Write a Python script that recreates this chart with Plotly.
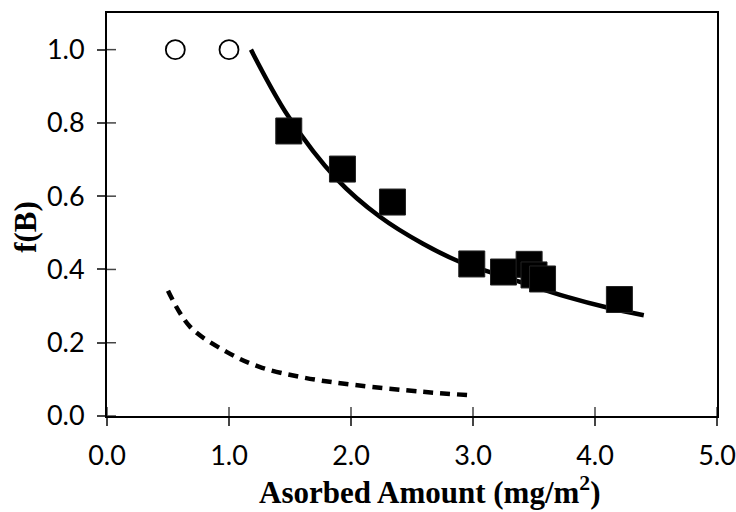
import plotly.graph_objects as go

# Open circles
open_x = [0.56, 1.00]
open_y = [1.00, 1.00]

# Filled squares (measured)
sq_x = [1.49, 1.93, 2.34, 2.99, 3.25, 3.46, 3.50, 3.57, 4.20]
sq_y = [0.778, 0.674, 0.584, 0.415, 0.393, 0.414, 0.385, 0.374, 0.318]

# Solid fitted curve
solid_x = [1.18, 1.49, 1.88, 2.24, 2.59, 2.89, 3.00, 3.385, 3.77, 4.10, 4.40]
solid_y = [1.00, 0.816, 0.648, 0.543, 0.47, 0.421, 0.408, 0.366, 0.325, 0.296, 0.275]

# Dashed curve
dash_x = [0.50, 0.68, 0.98, 1.25, 1.61, 2.02, 2.59, 2.96]
dash_y = [0.342, 0.244, 0.175, 0.134, 0.105, 0.085, 0.066, 0.057]

x_range = [0, 5]
y_range = [0, 1.1]
x_ticks = [0, 1, 2, 3, 4, 5]
y_ticks = [0, 0.2, 0.4, 0.6, 0.8, 1.0]

x_title = "Asorbed Amount (mg/m<sup>2</sup>)"
y_title = "f(B)"

fig = go.Figure()
fig.add_trace(go.Scatter(x=dash_x, y=dash_y, mode="lines",
                         line=dict(color="black", width=4.5, dash="10px,7px", shape="spline"),
                         showlegend=False, hoverinfo="skip"))
fig.add_trace(go.Scatter(x=solid_x, y=solid_y, mode="lines",
                         line=dict(color="black", width=4.5, shape="spline"),
                         showlegend=False, hoverinfo="skip"))
fig.add_trace(go.Scatter(x=sq_x, y=sq_y, mode="markers",
                         marker=dict(symbol="square", size=26, color="black",
                                     line=dict(color="#222", width=1)),
                         showlegend=False))
fig.add_trace(go.Scatter(x=open_x, y=open_y, mode="markers",
                         marker=dict(symbol="circle", size=19, color="white",
                                     line=dict(color="black", width=1.8)),
                         showlegend=False))

tick_col = "#444"
# inner halves of the crossing tick marks
shapes = []
for v in x_ticks:
    shapes.append(dict(type="line", xref="x", yref="paper",
                       x0=v, x1=v, y0=0, y1=9 / 403, line=dict(color=tick_col, width=1.5),
                       layer="above"))
for v in y_ticks:
    shapes.append(dict(type="line", xref="paper", yref="y",
                       y0=v, y1=v, x0=0, x1=9 / 610, line=dict(color=tick_col, width=1.5),
                       layer="above"))

tickfont = dict(family="Lato", size=27, color="black")
fig.update_layout(
    width=736, height=512,
    margin=dict(l=107, r=19, t=13, b=96),
    paper_bgcolor="white", plot_bgcolor="white",
    shapes=shapes,
    xaxis=dict(range=x_range, tickvals=x_ticks, tickformat=".1f", showgrid=False, zeroline=False,
               showline=True, linecolor="black", linewidth=2, mirror=True,
               ticks="outside", ticklen=8, tickwidth=1.5, tickcolor=tick_col,
               tickfont=tickfont, ticklabelstandoff=7, ticklabeloverflow="allow",
               automargin=False),
    yaxis=dict(range=y_range, tickvals=y_ticks, tickformat=".1f", showgrid=False, zeroline=False,
               showline=True, linecolor="black", linewidth=2, mirror=True,
               ticks="outside", ticklen=8, tickwidth=1.5, tickcolor=tick_col,
               tickfont=tickfont, ticklabelstandoff=7, automargin=False),
    annotations=[
        dict(text=x_title, xref="paper", yref="paper", x=0.53, y=-0.184,
             xanchor="center", yanchor="middle", showarrow=False,
             font=dict(family="Liberation Serif", size=31, color="black", weight="bold")),
        dict(text=y_title, xref="paper", yref="paper", x=-0.134, y=0.47,
             xanchor="center", yanchor="middle", showarrow=False, textangle=-90,
             font=dict(family="Liberation Serif", size=31, color="black", weight="bold")),
    ],
)

fig.write_html("out.html")
